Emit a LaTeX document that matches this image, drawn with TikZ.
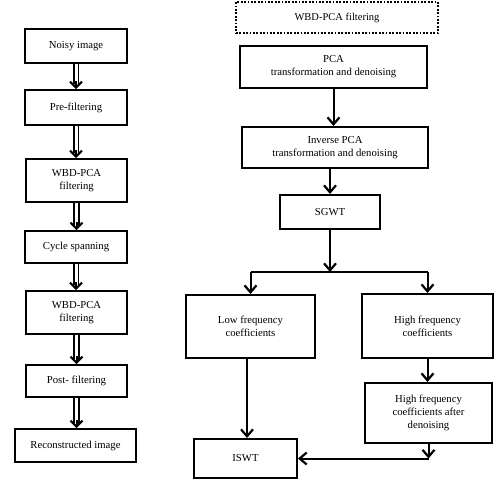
\documentclass[tikz,border=0pt]{standalone}
\usepackage{fontspec}
\setmainfont{Liberation Serif}
\usetikzlibrary{arrows.meta}
\begin{document}
\begin{tikzpicture}[x=1pt,y=1pt,
    stepbox/.style={draw,line width=2pt,align=center,font=\fontsize{10.7}{13}\selectfont,inner sep=1pt},
    dotbox/.style={draw,line width=2pt,dash pattern=on 1.8pt off 1.6pt,align=center,font=\fontsize{10.5}{13}\selectfont},
    dblshaft/.style={double,line width=1.8pt,double distance=3pt},
    dbltip/.style={line width=2pt,-{Straight Barb[length=6pt,width=12pt,line width=2pt]}},
    arr/.style={line width=2pt,-{Straight Barb[length=7pt,width=12pt,line width=2.2pt]}},
    lin/.style={line width=2pt}]
  \useasboundingbox (0,0) rectangle (495,-483);
  % left column
  \node[stepbox,minimum width=102,minimum height=34] (noisy) at (76,-46) {Noisy image};
  \node[stepbox,minimum width=102,minimum height=35] (pre) at (76,-107.5) {Pre-filtering};
  \node[stepbox,minimum width=101,minimum height=43] (wbda) at (76.5,-180.5) {WBD-PCA\\filtering};
  \node[stepbox,minimum width=102,minimum height=32] (cycle) at (76,-247) {Cycle spanning};
  \node[stepbox,minimum width=101,minimum height=43] (wbdb) at (76.5,-312.5) {WBD-PCA\\filtering};
  \node[stepbox,minimum width=101,minimum height=32] (post) at (76.5,-381) {Post- filtering};
  \node[stepbox,minimum width=121,minimum height=33] (recon) at (75.5,-445.5) {Reconstructed image};
  \foreach \a/\b in {noisy/pre,pre/wbda,wbda/cycle,cycle/wbdb,wbdb/post,post/recon}{
    \draw[dblshaft] (\a.south) -- ([yshift=5pt]\a.south |- \b.north);
    \draw[dbltip] ([yshift=8pt]\a.south |- \b.north) -- (\a.south |- \b.north);
  }
  % right column
  \node[dotbox,minimum width=202,minimum height=31] (wbd) at (337,-17.5) {WBD-PCA filtering};
  \node[stepbox,minimum width=187,minimum height=42] (pca) at (333.5,-67) {PCA\\transformation and denoising};
  \node[stepbox,minimum width=186,minimum height=41] (ipca) at (335,-147.5) {Inverse PCA\\transformation and denoising};
  \node[stepbox,minimum width=100,minimum height=34] (sgwt) at (330,-212) {SGWT};
  \node[stepbox,minimum width=129,minimum height=63] (low) at (250.5,-326.5) {Low frequency\\coefficients};
  \node[stepbox,minimum width=131,minimum height=64] (high) at (427.5,-326) {High frequency\\coefficients};
  \node[stepbox,minimum width=127,minimum height=60] (highd) at (428.5,-413) {High frequency\\coefficients after\\denoising};
  \node[stepbox,minimum width=103,minimum height=39] (iswt) at (245.5,-458.5) {ISWT};
  \coordinate (split) at (330,-272);
  \coordinate (splitl) at (low.north |- split);
  \coordinate (splitr) at (high.north |- split);
  \coordinate (corner) at (highd.south |- iswt.east);
  \draw[arr] (pca.south) -- (pca.south |- ipca.north);
  \draw[arr] (ipca.south -| sgwt.north) -- (sgwt);
  \draw[arr] (sgwt) -- (split);
  \draw[lin] (splitl) -- (splitr);
  \draw[arr] (splitl) -- (low);
  \draw[arr] (splitr) -- (high);
  \draw[arr] (high) -- (highd.north -| high.south);
  \draw[arr] (low.south -| 247,0) -- (iswt.north -| 247,0);
  \draw[arr] (highd.south) -- (corner);
  \draw[arr] (corner) -- (iswt.east);
\end{tikzpicture}
\end{document}
